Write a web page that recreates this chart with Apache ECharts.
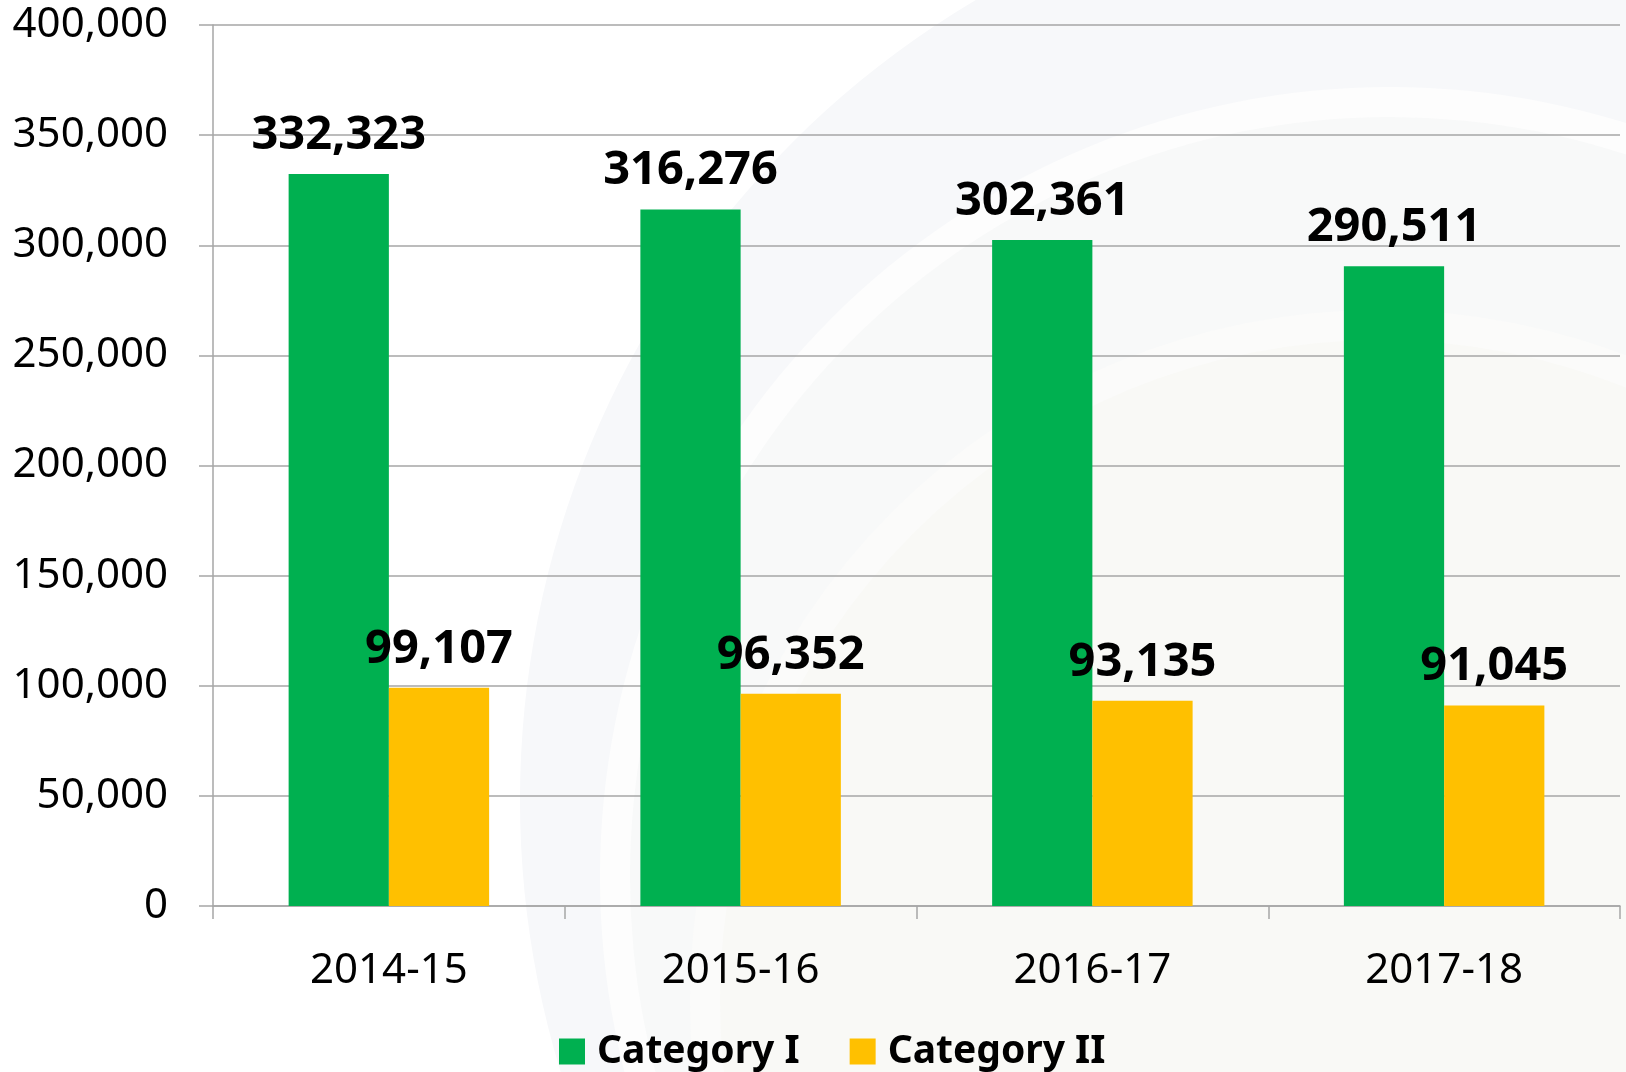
<!DOCTYPE html>
<html>
<head>
<meta charset="utf-8">
<script src="https://cdn.jsdelivr.net/npm/echarts@6/dist/echarts.min.js"></script>
<style>
html,body{margin:0;padding:0;background:#ffffff;}
#chart{width:1626px;height:1072px;}
</style>
</head>
<body>
<div id="chart"></div>
<script>
const categories = ['2014-15', '2015-16', '2016-17', '2017-18'];
const categoryI = [332323, 316276, 302361, 290511];
const categoryII = [99107, 96352, 93135, 91045];
const seriesNames = ['Category I', 'Category II'];
const yTicks = [0, 50000, 100000, 150000, 200000, 250000, 300000, 350000, 400000];

const fmt = v => Number(v).toLocaleString('en-US');
const FONT = '"Noto Sans", "Open Sans", sans-serif';

const chart = echarts.init(document.getElementById('chart'), null, {renderer: 'canvas'});
chart.setOption({
  backgroundColor: '#ffffff',
  animation: false,
  graphic: [
    {type: 'circle', z: -10, silent: true, shape: {cx: 1450, cy: 800, r: 930}, style: {fill: '#f7f8fa'}},
    {type: 'circle', z: -9, silent: true, shape: {cx: 1390, cy: 877, r: 790}, style: {fill: '#fdfdfd'}},
    {type: 'circle', z: -8, silent: true, shape: {cx: 1390, cy: 877, r: 760}, style: {fill: '#f8f9f9'}},
    {type: 'circle', z: -7, silent: true, shape: {cx: 1380, cy: 1000, r: 690}, style: {fill: '#fbfbfa'}},
    {type: 'circle', z: -6, silent: true, shape: {cx: 1380, cy: 1000, r: 660}, style: {fill: '#f9f9f6'}}
  ],
  grid: {left: 213, right: 6, top: 25, bottom: 166, containLabel: false},
  legend: {
    data: seriesNames,
    left: 554,
    top: 1027,
    itemWidth: 26,
    itemHeight: 26,
    itemGap: 50,
    icon: 'rect',
    textStyle: {fontFamily: FONT, fontSize: 39, fontWeight: 'bold', color: '#000', padding: [0, 0, 0, 7]}
  },
  xAxis: {
    type: 'category',
    data: categories,
    axisLine: {show: true, lineStyle: {color: '#a6a6a6', width: 1.5}},
    axisTick: {show: true, length: 13, alignWithLabel: false, lineStyle: {color: '#a6a6a6', width: 1.5}},
    axisLabel: {fontFamily: FONT, fontSize: 42, color: '#000', margin: 44},
    splitLine: {show: false}
  },
  yAxis: {
    type: 'value',
    min: 0,
    max: 400000,
    interval: 50000,
    axisLine: {show: true, lineStyle: {color: '#a6a6a6', width: 1.5}},
    axisTick: {show: true, length: 14, lineStyle: {color: '#a6a6a6', width: 1.5}},
    axisLabel: {fontFamily: FONT, fontSize: 42, color: '#000', margin: 45,
      formatter: v => yTicks.includes(v) ? fmt(v) : ''},
    splitLine: {show: true, lineStyle: {color: '#a6a6a6', width: 1.5}}
  },
  series: [
    {
      name: seriesNames[0],
      type: 'bar',
      data: categoryI,
      barGap: '0%',
      barCategoryGap: '43%',
      itemStyle: {color: '#00b050'},
      label: {show: true, position: 'top', distance: 15, fontFamily: FONT, fontSize: 47, fontWeight: 'bold', color: '#000',
        formatter: p => fmt(p.value)}
    },
    {
      name: seriesNames[1],
      type: 'bar',
      data: categoryII,
      barGap: '0%',
      barCategoryGap: '43%',
      itemStyle: {color: '#ffc000'},
      label: {show: true, position: 'top', distance: 15, fontFamily: FONT, fontSize: 47, fontWeight: 'bold', color: '#000',
        formatter: p => fmt(p.value)}
    }
  ]
});
</script>
</body>
</html>
